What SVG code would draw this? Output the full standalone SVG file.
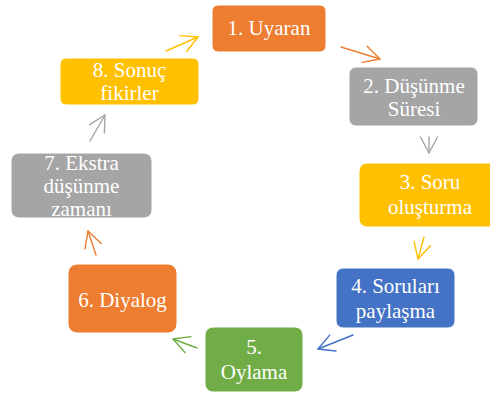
<svg xmlns="http://www.w3.org/2000/svg" width="490" height="394" viewBox="0 0 490 394">
<style>
.box{stroke:#ffffff;stroke-width:1}
.t{font-family:"Liberation Serif","DejaVu Serif",serif;font-size:21px;fill:#ffffff;text-anchor:middle}
.c{fill:none;stroke-width:1.4;stroke-linecap:round}
.orange{fill:#ED7D31}
.grey{fill:#A5A5A5}
.yellow{fill:#FFC000}
.blue{fill:#4472C4}
.green{fill:#70AD47}
</style>
<defs>
<marker id="mO" markerUnits="userSpaceOnUse" markerWidth="40" markerHeight="40" refX="0" refY="0" orient="auto" overflow="visible"><path d="M-16,-8.5 L0,0 L-16,8.5" fill="none" stroke="#ED7D31" stroke-width="1.4" stroke-linecap="round" stroke-linejoin="round"/></marker>
<marker id="mG" markerUnits="userSpaceOnUse" markerWidth="40" markerHeight="40" refX="0" refY="0" orient="auto" overflow="visible"><path d="M-16,-8.5 L0,0 L-16,8.5" fill="none" stroke="#A5A5A5" stroke-width="1.4" stroke-linecap="round" stroke-linejoin="round"/></marker>
<marker id="mY" markerUnits="userSpaceOnUse" markerWidth="40" markerHeight="40" refX="0" refY="0" orient="auto" overflow="visible"><path d="M-16,-8.5 L0,0 L-16,8.5" fill="none" stroke="#FFC000" stroke-width="1.4" stroke-linecap="round" stroke-linejoin="round"/></marker>
<marker id="mB" markerUnits="userSpaceOnUse" markerWidth="40" markerHeight="40" refX="0" refY="0" orient="auto" overflow="visible"><path d="M-16,-8.5 L0,0 L-16,8.5" fill="none" stroke="#4472C4" stroke-width="1.4" stroke-linecap="round" stroke-linejoin="round"/></marker>
<marker id="mGr" markerUnits="userSpaceOnUse" markerWidth="40" markerHeight="40" refX="0" refY="0" orient="auto" overflow="visible"><path d="M-16,-8.5 L0,0 L-16,8.5" fill="none" stroke="#70AD47" stroke-width="1.4" stroke-linecap="round" stroke-linejoin="round"/></marker>
</defs>
<rect width="490" height="394" fill="#ffffff"/>
<g id="connectors">
<line class="c" x1="166" y1="51" x2="198" y2="37" stroke="#FFC000" marker-end="url(#mY)"/>
<line class="c" x1="341" y1="47" x2="380" y2="59" stroke="#ED7D31" marker-end="url(#mO)"/>
<line class="c" x1="429" y1="137" x2="429" y2="153" stroke="#A5A5A5" marker-end="url(#mG)"/>
<line class="c" x1="424" y1="237" x2="418" y2="259" stroke="#FFC000" marker-end="url(#mY)"/>
<line class="c" x1="353" y1="335" x2="318" y2="349" stroke="#4472C4" marker-end="url(#mB)"/>
<line class="c" x1="197" y1="348" x2="173" y2="339" stroke="#70AD47" marker-end="url(#mGr)"/>
<line class="c" x1="90" y1="141" x2="105" y2="115" stroke="#A5A5A5" marker-end="url(#mG)"/>
<line class="c" x1="96" y1="255" x2="88" y2="231" stroke="#ED7D31" marker-end="url(#mO)"/>
</g>
<g id="n1"><rect class="box orange" x="212" y="5" width="114" height="47" rx="6"/><text class="t" x="269" y="35">1. Uyaran</text></g>
<g id="n2"><rect class="box grey" x="349" y="67" width="129" height="59" rx="7"/><text class="t" x="414" y="93">2. Düşünme</text><text class="t" x="414" y="116">Süresi</text></g>
<g id="n3"><rect class="box yellow" x="359" y="163" width="142" height="64" rx="8"/><text class="t" x="430" y="189">3. Soru</text><text class="t" x="430" y="214">oluşturma</text></g>
<g id="n4"><rect class="box blue" x="336" y="268" width="119" height="60" rx="7"/><text class="t" x="395.5" y="293">4. Soruları</text><text class="t" x="395.5" y="318">paylaşma</text></g>
<g id="n5"><rect class="box green" x="205" y="327" width="98" height="65" rx="8"/><text class="t" x="254" y="354">5.</text><text class="t" x="254" y="379">Oylama</text></g>
<g id="n6"><rect class="box orange" x="68" y="264" width="109" height="69" rx="9"/><text class="t" x="122.5" y="307">6. Diyalog</text></g>
<g id="n7"><rect class="box grey" x="11" y="153" width="141" height="65" rx="8"/><text class="t" x="81.5" y="170">7. Ekstra</text><text class="t" x="81.5" y="193">düşünme</text><text class="t" x="81.5" y="216">zamanı</text></g>
<g id="n8"><rect class="box yellow" x="60" y="58" width="139" height="47" rx="6"/><text class="t" x="129.5" y="77">8. Sonuç</text><text class="t" x="129.5" y="100">fikirler</text></g>
</svg>
